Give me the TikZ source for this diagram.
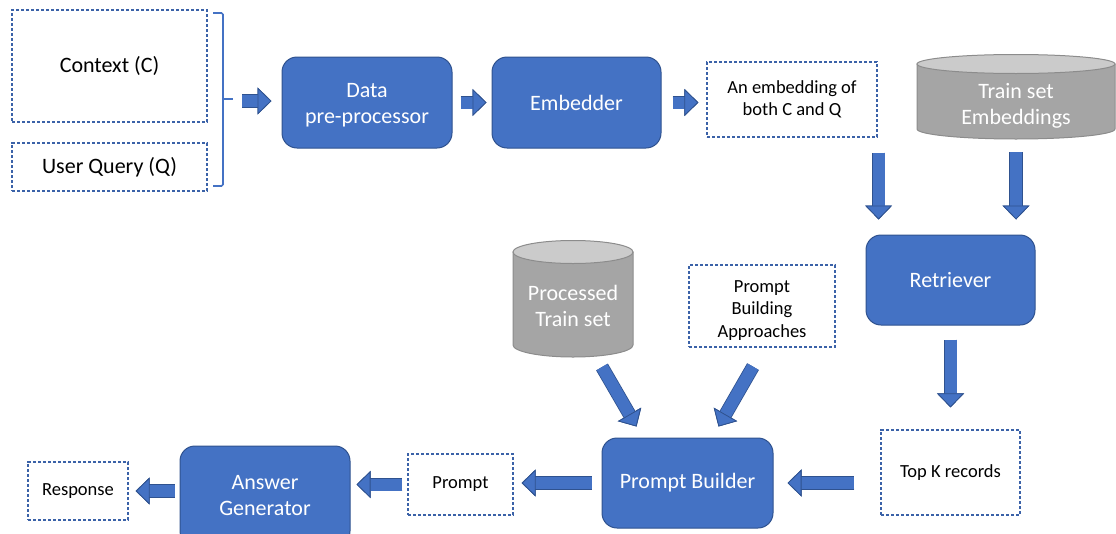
\documentclass[tikz,border=0pt]{standalone}
\usepackage{fontspec}
\setmainfont{Carlito}
\usetikzlibrary{arrows.meta,calc}
\definecolor{blueA}{HTML}{4472C4}
\definecolor{blueD}{HTML}{2F528F}
\definecolor{dashc}{HTML}{3B62A8}
\definecolor{grayBody}{HTML}{A5A5A5}
\definecolor{grayTop}{HTML}{CBCBCB}
\definecolor{grayLine}{HTML}{8C8C8C}
\begin{document}
\begin{tikzpicture}[x=1pt,y=-1pt,
  proc/.style={draw=blueD, fill=blueA, line width=1pt, rounded corners=15pt, text=white,
    align=center, font=\fontsize{22}{26}\selectfont, inner sep=0pt},
  dbox/.style={draw=dashc, dash pattern=on 3.2pt off 1.8pt, line width=1.2pt, align=center,
    font=\fontsize{18.5}{22.5}\selectfont, inner sep=0pt},
  cyltext/.style={text=white, align=center, font=\fontsize{22}{26}\selectfont, inner sep=0pt},
  cylbody/.style={draw=grayLine, fill=grayBody, line width=1pt},
  cyltop/.style={draw=grayLine, fill=grayTop, line width=1pt},
  bracestyle/.style={draw=blueA, line width=1.6pt, rounded corners=1.5pt},
  fat/.style={draw=blueA, line width=12pt,
    -{Triangle[length=14pt, width=27pt, fill=blueA, color=blueD, line width=0.8pt]},
    preaction={draw=blueD, line width=13.6pt,
      -{Triangle[length=14pt, width=27pt, fill=blueD, color=blueD, line width=0.8pt]}}}
]
\useasboundingbox (0,0) rectangle (1116,533);

% input boxes
\node[dbox, minimum width=195pt, minimum height=112pt, font=\fontsize{22}{26}\selectfont] (ctx) at (109.5,66) {Context (C)};
\node[dbox, minimum width=195pt, minimum height=48pt, font=\fontsize{22}{26}\selectfont] (uq) at (109.5,167) {User Query (Q)};

% brace
\draw[bracestyle] (213,13) -- (223,13) -- (223,186) -- (213,186);
\draw[bracestyle] (223,99) -- (233,99);
\coordinate (bt) at (233,101);

% top row
\node[proc, minimum width=170pt, minimum height=91pt] (dp) at (367,102.5) {\rule{0pt}{19pt}Data\\pre-processor};
\node[proc, minimum width=169pt, minimum height=91pt] (emb) at (576.5,102.5) {Embedder};
\node[dbox, minimum width=170pt, minimum height=75pt] (embq) at (792,99.5) {An embedding of\\both C and Q};

% Train set Embeddings cylinder
\draw[cylbody] (917,64) -- (917,129) arc[start angle=180, end angle=0, x radius=99, y radius=10] -- (1115,64) -- cycle;
\draw[cyltop] (1016,64) ellipse[x radius=99, y radius=9.5];
\node[cyltext] (tse) at (1016,106) {Train set\\Embeddings};
\coordinate (tseb) at (1016,139);

% retriever and top K
\node[proc, minimum width=169pt, minimum height=90pt] (ret) at (950.5,280) {Retriever};
\node[dbox, minimum width=139pt, minimum height=85pt] (topk) at (950.5,472.5) {Top K records};

% Processed Train set cylinder
\draw[cylbody] (513,252) -- (513,345) arc[start angle=180, end angle=0, x radius=60, y radius=12] -- (633,252) -- cycle;
\draw[cyltop] (573,252) ellipse[x radius=60, y radius=11.5];
\node[cyltext] (pts) at (573,306) {Processed\\Train set};
\coordinate (ptsb) at (573,357);

\node[dbox, minimum width=146pt, minimum height=82pt] (pba) at (762,306) {\rule{0pt}{20pt}Prompt\\Building\\Approaches};

% bottom row
\node[proc, minimum width=171pt, minimum height=90pt] (pb) at (687.5,483) {Prompt Builder};
\node[dbox, minimum width=105pt, minimum height=61pt] (prompt) at (460.5,484.5) {Prompt};
\node[proc, minimum width=170pt, minimum height=100pt] (ag) at (265,496) {Answer\\Generator};
\node[dbox, minimum width=100pt, minimum height=58pt] (resp) at (78,491) {Response};

% connectors
\draw[fat, shorten <=9pt, shorten >=10pt] (bt) -- (bt -| dp.west);
\draw[fat, shorten <=8pt, shorten >=5pt] (dp.east) -- (emb.west);
\draw[fat, shorten <=11pt, shorten >=8pt] (emb.east) -- (emb.east -| embq.west);
\draw[fat, shorten <=15pt, shorten >=15pt] ($(embq.south east)+(1,0)$) -- ($(embq.south east |- ret.north)+(1,0)$);
\draw[fat, shorten <=13pt, shorten >=15pt] (tseb) -- (tseb |- ret.north);
\draw[fat, shorten <=14pt, shorten >=22pt] (ret.south) -- (topk.north);
\draw[fat, shorten <=26pt, shorten >=14pt] (topk.west |- pb.east) -- (pb.east);
\coordinate (d1s) at ($(ptsb)+(29,10)$);
\coordinate (d1e) at ($(pb.north west)+(35,-11)$);
\coordinate (d2s) at ($(pba.south)+(-9,19)$);
\coordinate (d2e) at ($(pb.north east)+(-55,-11)$);
\draw[fat] (d1s) -- (d1e);
\draw[fat] (d2s) -- (d2e);
\draw[fat, shorten <=10pt, shorten >=8pt] (pb.west) -- (pb.west -| prompt.east);
\draw[fat, shorten <=5pt, shorten >=6pt] (prompt.west) -- (prompt.west -| ag.east);
\draw[fat, shorten <=5pt, shorten >=7pt] (ag.west |- resp.east) -- (resp.east);
\end{tikzpicture}
\end{document}
